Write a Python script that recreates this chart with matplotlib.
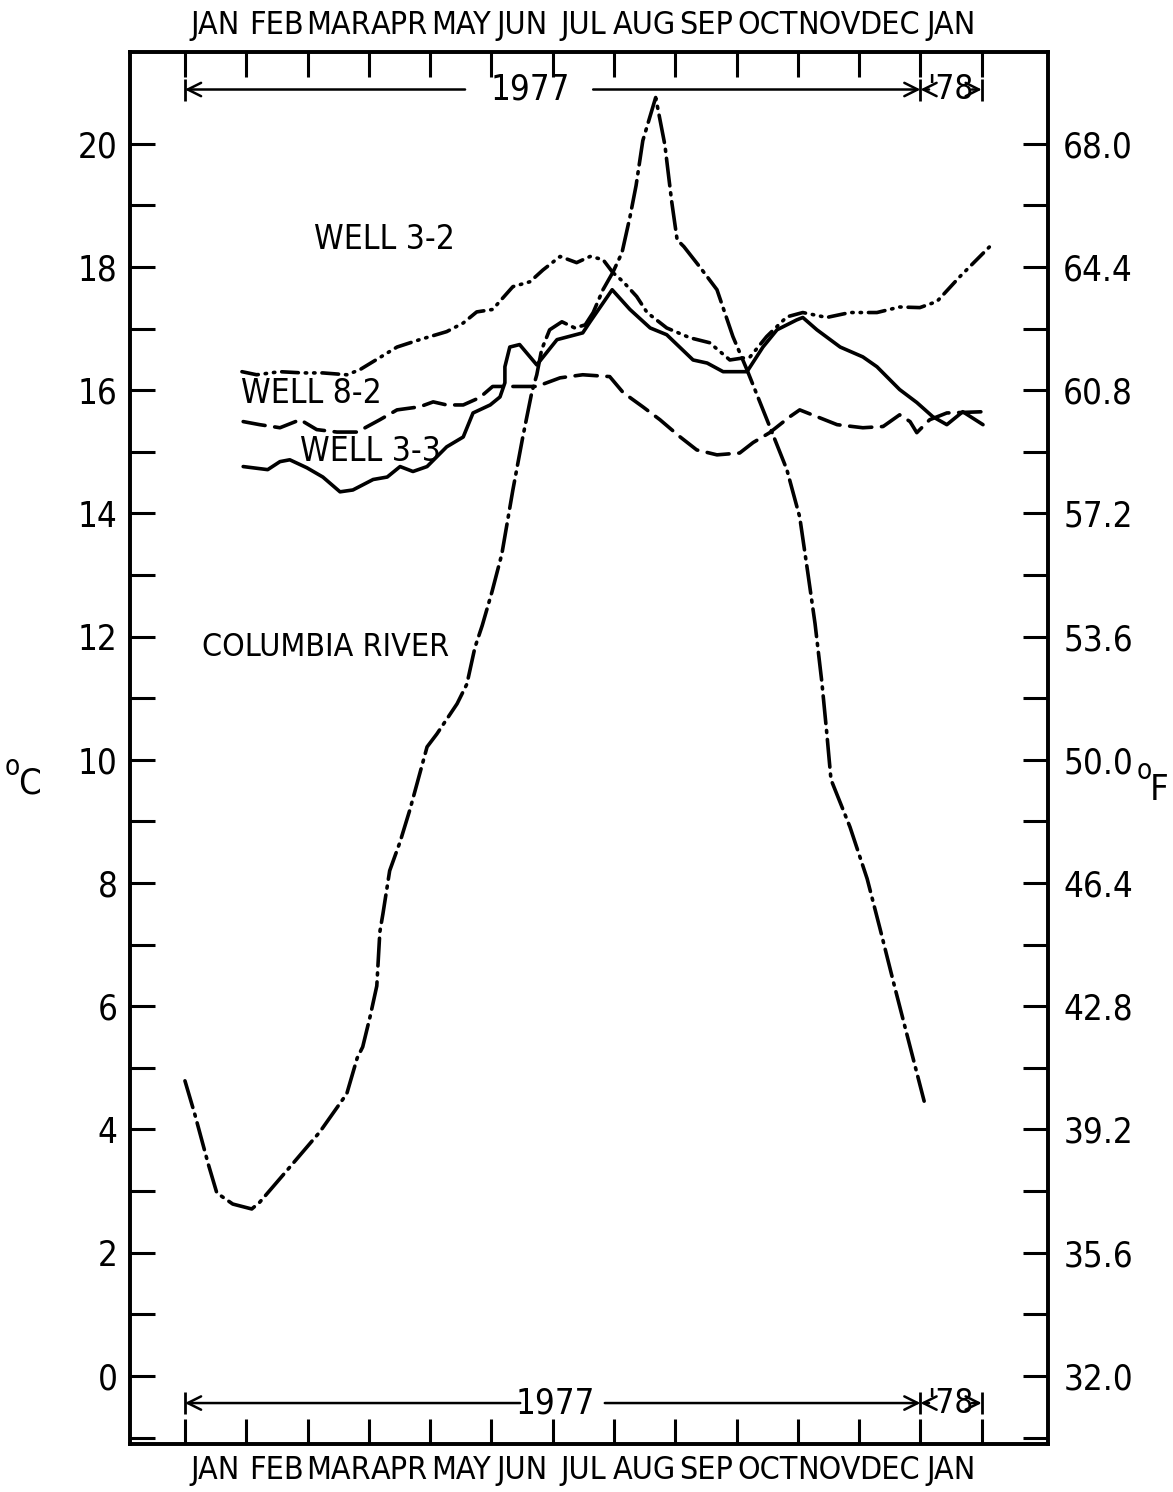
import matplotlib
matplotlib.use('Agg')
import matplotlib.pyplot as plt

plt.rcParams['font.family'] = ['DejaVu Sans Condensed', 'Liberation Sans Narrow', 'DejaVu Sans']
plt.rcParams['font.stretch'] = 'condensed'
plt.rcParams['lines.scale_dashes'] = False

# month labels sit between the month boundary ticks (0 = start of Jan 1977)
months = ['JAN', 'FEB', 'MAR', 'APR', 'MAY', 'JUN', 'JUL',
          'AUG', 'SEP', 'OCT', 'NOV', 'DEC', 'JAN']
c_ticks = [0, 2, 4, 6, 8, 10, 12, 14, 16, 18, 20]
f_labels = ['32.0', '35.6', '39.2', '42.8', '46.4', '50.0',
            '53.6', '57.2', '60.8', '64.4', '68.0']

# Columbia River (deg C) vs. months since 1 Jan 1977
river_x = [0.00, 0.16, 0.38, 0.52, 0.78, 1.09, 1.22, 1.66, 2.20, 2.64, 2.81, 2.90,
           3.02, 3.13, 3.18, 3.23, 3.34, 3.51, 3.67, 3.95, 4.11, 4.44, 4.60, 4.73,
           4.85, 5.01, 5.17, 5.35, 5.51, 5.66, 5.74, 5.82, 5.95, 6.15, 6.36, 6.53,
           6.66, 6.82, 6.98, 7.13, 7.26, 7.36, 7.47, 7.68, 7.83, 7.94, 8.03, 8.14,
           8.40, 8.68, 8.94, 9.17, 9.54, 9.82, 10.03, 10.16, 10.28, 10.39, 10.47,
           10.54, 10.85, 11.13, 11.34, 11.57, 11.79, 12.06]
river_t = [4.79, 4.25, 3.44, 2.97, 2.79, 2.71, 2.82, 3.33, 3.96, 4.58, 5.16, 5.34,
           5.83, 6.33, 7.21, 7.50, 8.20, 8.67, 9.19, 10.21, 10.42, 10.91, 11.23, 11.82,
           12.18, 12.73, 13.34, 14.38, 15.23, 15.97, 16.25, 16.66, 16.98, 17.11, 17.01, 17.06,
           17.26, 17.63, 17.91, 18.23, 18.81, 19.32, 20.05, 20.75, 19.98, 19.07, 18.44, 18.33,
           18.00, 17.63, 16.87, 16.33, 15.41, 14.71, 13.94, 13.05, 12.21, 11.27, 10.45,
           9.68, 8.91, 8.07, 7.26, 6.35, 5.50, 4.46]

well32_x = [0.93, 1.17, 1.55, 1.92, 2.25, 2.64, 2.85, 3.18, 3.46, 3.83, 4.27, 4.54,
            4.76, 5.02, 5.35, 5.63, 5.84, 6.12, 6.39, 6.61, 6.82, 6.98, 7.15, 7.37,
            7.54, 7.86, 8.24, 8.56, 8.89, 9.22, 9.49, 9.82, 10.08, 10.47, 10.85, 11.29,
            11.66, 11.99, 12.27, 12.64, 13.13]
well32_t = [16.30, 16.25, 16.30, 16.28, 16.28, 16.25, 16.33, 16.53, 16.70, 16.82, 16.95, 17.09,
            17.27, 17.31, 17.68, 17.76, 17.95, 18.17, 18.07, 18.17, 18.12, 17.91, 17.76, 17.52,
            17.26, 17.01, 16.85, 16.77, 16.49, 16.54, 16.87, 17.19, 17.26, 17.18, 17.26, 17.26,
            17.35, 17.34, 17.44, 17.84, 18.33]

well82_x = [0.95, 1.22, 1.55, 1.88, 2.15, 2.48, 2.81, 3.18, 3.46, 3.83, 4.05, 4.27,
            4.54, 4.81, 5.02, 5.42, 5.74, 6.12, 6.49, 6.93, 7.15, 7.47, 7.75, 8.08,
            8.35, 8.68, 9.05, 9.27, 9.54, 9.87, 10.03, 10.31, 10.64, 11.06, 11.39, 11.66,
            11.83, 11.94, 12.15, 12.43, 13.02]
well82_t = [15.49, 15.44, 15.39, 15.52, 15.36, 15.32, 15.32, 15.52, 15.68, 15.73, 15.81, 15.76,
            15.76, 15.88, 16.06, 16.06, 16.06, 16.20, 16.25, 16.22, 15.96, 15.73, 15.52, 15.24,
            15.03, 14.95, 14.98, 15.15, 15.31, 15.57, 15.68, 15.57, 15.44, 15.39, 15.41, 15.60,
            15.49, 15.31, 15.52, 15.63, 15.65]

well33_x = [0.95, 1.35, 1.55, 1.71, 1.99, 2.25, 2.53, 2.74, 3.07, 3.30, 3.51, 3.72,
            3.95, 4.27, 4.54, 4.70, 4.98, 5.14, 5.22, 5.22, 5.30, 5.46, 5.74, 6.07,
            6.49, 6.61, 6.97, 7.26, 7.59, 7.86, 8.29, 8.52, 8.78, 9.17, 9.43, 9.66,
            9.98, 10.08, 10.31, 10.69, 11.06, 11.29, 11.66, 11.94, 12.20, 12.43, 12.69, 13.02]
well33_t = [14.76, 14.71, 14.84, 14.87, 14.74, 14.59, 14.35, 14.38, 14.55, 14.59, 14.76, 14.68,
            14.76, 15.08, 15.24, 15.63, 15.76, 15.89, 16.12, 16.38, 16.70, 16.74, 16.41, 16.82,
            16.93, 17.11, 17.63, 17.31, 17.01, 16.90, 16.49, 16.44, 16.30, 16.30, 16.70, 16.98,
            17.14, 17.18, 16.98, 16.70, 16.54, 16.38, 16.01, 15.80, 15.57, 15.44, 15.65, 15.44]

fig = plt.figure(figsize=(11.73, 14.92), dpi=100)
ax = fig.add_axes([0.1108, 0.0322, 0.7826, 0.9330])

lw = 2.6
ax.plot(river_x, river_t, color='black', lw=lw, dashes=(20, 5, 1.5, 5),
        dash_capstyle='round')
ax.plot(well32_x, well32_t, color='black', lw=lw, dashes=(12, 5, 1, 5, 1, 5),
        dash_capstyle='round')
ax.plot(well82_x, well82_t, color='black', lw=lw, dashes=(16, 7),
        dash_capstyle='round')
ax.plot(well33_x, well33_t, color='black', lw=lw, solid_capstyle='round')

ax.text(3.26, 18.45, 'WELL 3-2', ha='center', va='center', fontsize=24)
ax.text(2.07, 15.95, 'WELL 8-2', ha='center', va='center', fontsize=24)
ax.text(3.03, 15.0, 'WELL 3-3', ha='center', va='center', fontsize=24)
ax.text(2.30, 11.83, 'COLUMBIA RIVER', ha='center', va='center', fontsize=23)

ax.set_xlim(-0.897, 14.08)
ax.set_ylim(-1.104, 21.49)

# month boundary ticks, labels centred between them, top and bottom
ax.set_xticks(range(14))
ax.set_xticklabels([])
ax.set_xticks([i + 0.5 for i in range(13)], minor=True)
ax.set_xticklabels(months, minor=True, fontsize=23)
ax.tick_params(axis='x', which='major', direction='in', length=18, width=2.2,
               top=True, bottom=True)
ax.tick_params(axis='x', which='minor', length=0, top=True, bottom=True,
               labeltop=True, labelbottom=True, pad=8)

ax.set_yticks(c_ticks)
ax.set_yticklabels([str(c) for c in c_ticks], fontsize=25)
ax.set_yticks(range(-1, 21, 2), minor=True)
ax.tick_params(axis='y', which='both', direction='in', length=18, width=2.2, pad=9)

for s in ax.spines.values():
    s.set_linewidth(2.6)

ax2 = ax.twinx()
ax2.set_ylim(ax.get_ylim())
ax2.set_yticks(c_ticks)
ax2.set_yticklabels(f_labels, fontsize=25)
ax2.set_yticks(range(-1, 21, 2), minor=True)
ax2.tick_params(axis='y', which='both', direction='in', length=18, width=2.2, pad=11)
for s in ax2.spines.values():
    s.set_linewidth(2.6)

# year span arrows
arrow = dict(arrowstyle='->', lw=1.8, mutation_scale=24, shrinkA=0, shrinkB=0,
             color='black')


def year_span(y, left_end, text_x, right_start):
    ax.annotate('', xy=(0, y), xytext=(left_end, y), arrowprops=arrow)
    ax.text(text_x, y, '1977', ha='center', va='center', fontsize=25)
    ax.annotate('', xy=(12, y), xytext=(right_start, y), arrowprops=arrow)
    ax.annotate('', xy=(12, y), xytext=(12.14, y), arrowprops=arrow)
    ax.text(12.49, y, "'78", ha='center', va='center', fontsize=24)
    ax.annotate('', xy=(13, y), xytext=(12.84, y), arrowprops=arrow)
    ax.plot([0, 12, 13], [y, y, y], marker='|', ms=16, mew=2, ls='none',
            color='black')


year_span(20.88, 4.57, 5.63, 6.66)
year_span(-0.44, 5.47, 6.04, 6.85)

fig.text(12 / 1173, 1 - 767 / 1492, 'o', fontsize=20, ha='center', va='center')
fig.text(29 / 1173, 1 - 784 / 1492, 'C', fontsize=26, ha='center', va='center')
fig.text(1144 / 1173, 1 - 771 / 1492, 'o', fontsize=20, ha='center', va='center')
fig.text(1159 / 1173, 1 - 790 / 1492, 'F', fontsize=26, ha='center', va='center')

fig.savefig('out.png', dpi=100)
